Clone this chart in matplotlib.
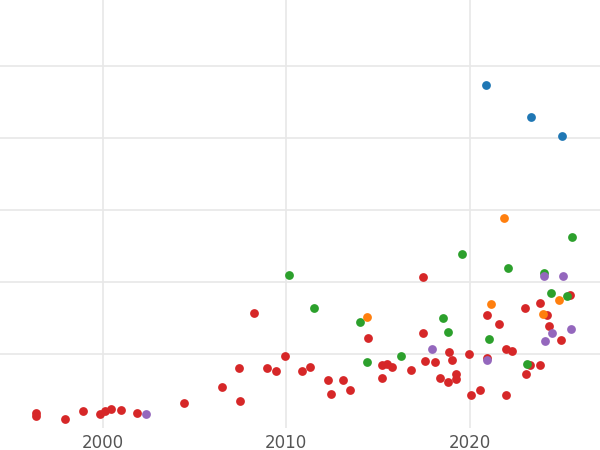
import matplotlib.pyplot as plt

blue_year = [2020.88, 2023.33, 2025.02]
blue_val = [4.74, 4.29, 4.03]

orange_year = [2021.86, 2021.15, 2014.39, 2023.98, 2024.85]
orange_val = [2.89, 1.69, 1.51, 1.56, 1.75]

green_year = [2010.14, 2011.5, 2014.0, 2014.39, 2016.24, 2019.57, 2018.8, 2018.53,
              2021.04, 2022.07, 2023.11, 2024.03, 2024.42, 2025.29, 2025.56]
green_val = [2.10, 1.64, 1.44, 0.89, 0.97, 2.39, 1.31, 1.50,
             1.21, 2.19, 0.86, 2.13, 1.85, 1.81, 2.63]

purple_year = [2002.35, 2017.93, 2020.93, 2024.03, 2024.09, 2024.47, 2025.07, 2025.5]
purple_val = [0.17, 1.07, 0.92, 2.08, 1.18, 1.29, 2.08, 1.35]

red_year = [1996.35, 1996.35, 1997.93, 1998.91, 1999.84, 2000.11, 2000.44, 2000.98,
            2001.86, 2004.42, 2006.49, 2007.41, 2007.47, 2008.23, 2008.94, 2009.43,
            2009.92, 2010.85, 2011.28, 2012.26, 2012.43, 2013.08, 2013.46, 2014.45,
            2015.21, 2015.21, 2015.48, 2015.75, 2016.79, 2017.44, 2017.44, 2017.55,
            2018.10, 2018.37, 2018.80, 2018.86, 2019.02, 2019.24, 2019.24, 2019.95,
            2020.06, 2020.55, 2020.93, 2020.93, 2021.58, 2021.97, 2021.97, 2022.29,
            2023.0, 2023.06, 2023.27, 2023.82, 2023.82, 2024.2, 2024.31, 2024.96,
            2025.45]
red_val = [0.18, 0.14, 0.10, 0.21, 0.17, 0.21, 0.24, 0.22,
           0.18, 0.32, 0.54, 0.81, 0.35, 1.57, 0.81, 0.76,
           0.97, 0.76, 0.82, 0.64, 0.44, 0.64, 0.50, 1.22,
           0.85, 0.67, 0.86, 0.82, 0.78, 2.07, 1.29, 0.90,
           0.89, 0.67, 0.61, 1.03, 0.92, 0.65, 0.72, 1.00,
           0.43, 0.50, 1.54, 0.94, 1.42, 1.07, 0.43, 1.04,
           1.64, 0.72, 0.85, 1.71, 0.85, 1.54, 1.39, 1.19,
           1.82]

fig = plt.figure(figsize=(6, 4.5), dpi=100)
ax = fig.add_axes([0, 0.049, 1, 0.951])

for xs, ys, c in [(red_year, red_val, '#d62728'), (green_year, green_val, '#2ca02c'),
                  (orange_year, orange_val, '#ff7f0e'), (purple_year, purple_val, '#9467bd'),
                  (blue_year, blue_val, '#1f77b4')]:
    ax.scatter(xs, ys, s=40, color=c, zorder=3, linewidths=0)

ax.set_xlim(1994.39, 2027.1)
ax.set_ylim(-0.03, 5.92)
ax.set_xticks([2000, 2010, 2020])
ax.set_yticks([1, 2, 3, 4, 5])
ax.tick_params(axis='y', left=False, labelleft=False)
ax.tick_params(axis='x', length=0, labelsize=12, labelcolor='#555555', pad=4)
ax.grid(True, color='#e8e8e8', linewidth=1.2)
ax.set_axisbelow(True)
for s in ax.spines.values():
    s.set_visible(False)

plt.savefig('out.png')
